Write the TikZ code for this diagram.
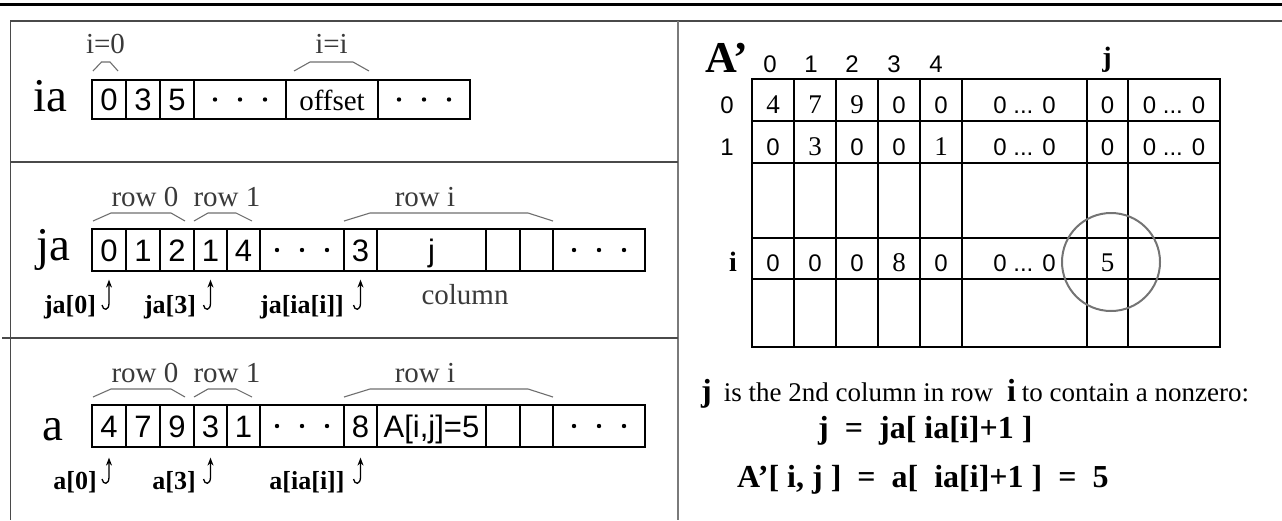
\documentclass[tikz,border=0pt]{standalone}
\usepackage{fontspec}
\setmainfont{Liberation Serif}
\setsansfont{Liberation Sans}
\usetikzlibrary{arrows.meta,calc}
\newcommand{\fsz}[1]{\fontsize{#1}{#1}\selectfont}
\definecolor{framegray}{HTML}{4A4A4A}
\definecolor{divgray}{HTML}{7A7A7A}
\definecolor{bracegray}{HTML}{6E6E6E}
\definecolor{anngray}{HTML}{3A3A3A}
\definecolor{ringgray}{HTML}{747474}
\tikzset{
  cellbox/.style={draw, line width=1.2pt, inner sep=0pt, text height=22pt, text depth=0pt, font=\sffamily\fsz{31}},
  iacell/.style={cellbox, minimum height=39pt},
  rowcell/.style={cellbox, minimum height=42pt},
  arrname/.style={font=\fsz{47}, inner sep=0pt, anchor=base west},
  ann/.style={font=\fsz{29}, text=anngray, inner sep=0pt, anchor=base},
  brc/.style={draw=bracegray, line width=1.1pt},
  jarr/.style={draw, line width=1.3pt, -{Stealth[length=8pt,width=6pt]}},
  idxlbl/.style={font=\bfseries\fsz{26}, inner sep=0pt, anchor=base},
  gsans/.style={font=\sffamily\fsz{24}, inner sep=0pt, anchor=base},
  gserif/.style={font=\fsz{27}, inner sep=0pt, anchor=base},
  gbold/.style={font=\bfseries\fsz{28}, inner sep=0pt, anchor=base},
  thinrule/.style={line width=1.1pt},
  thickrule/.style={line width=2.4pt},
  eqline/.style={font=\bfseries\fsz{32}, inner sep=0pt, anchor=base west},
}
\begin{document}
\begin{tikzpicture}[x=1pt, y=-1pt]
\useasboundingbox (0,0) rectangle (1282,520);

% page rules and panel frame
\draw[line width=3pt] (0,4.5) -- (1282,4.5);
\draw[framegray, line width=1.6pt] (1282,21) -- (10.5,21) -- (10.5,520);
\draw[divgray, line width=1.4pt] (678,21) -- (678,520);
\draw[framegray, line width=1.2pt] (10.5,162) -- (678,162);
\draw[framegray, line width=1.2pt] (2,338) -- (678,338);

% ---------- ia ----------
\node[arrname] (ianame) at (33,111) {ia};
\node[iacell, minimum width=34pt] (ia0) at (109,99.5) {0};
\node[iacell, minimum width=34pt] (ia1) at (143,99.5) {3};
\node[iacell, minimum width=34pt] (ia2) at (177,99.5) {5};
\node[iacell, minimum width=92pt] (ia3) at (240,99.5) {};
\node[iacell, minimum width=92pt, font=\rmfamily\fsz{29}] (ia4) at (332,99.5) {offset};
\node[iacell, minimum width=92pt] (ia5) at (424,99.5) {};
\draw[brc] (93,71) -- (101.5,62) -- (110,62) -- (118,71);
\draw[brc] (294,71) -- (310,62) -- (353,62) -- (369,71);
\node[ann] (iazero) at (105.5,53) {i=0};
\node[ann] (iai) at (331.5,53) {i=i};

% ---------- ja ----------
\node[arrname] (janame) at (36,260) {ja};
\node[rowcell, minimum width=34pt] (ja0) at (109,250) {0};
\node[rowcell, minimum width=34pt] (ja1) at (143,250) {1};
\node[rowcell, minimum width=34pt] (ja2) at (177,250) {2};
\node[rowcell, minimum width=33pt] (ja3) at (210.5,250) {1};
\node[rowcell, minimum width=33pt] (ja4) at (243.5,250) {4};
\node[rowcell, minimum width=84pt] (ja5) at (302,250) {};
\node[rowcell, minimum width=33pt] (ja6) at (360.5,250) {3};
\node[rowcell, minimum width=109pt] (ja7) at (431.5,250) {j};
\node[rowcell, minimum width=34pt] (ja8) at (503,250) {};
\node[rowcell, minimum width=33pt] (ja9) at (536.5,250) {};
\node[rowcell, minimum width=92pt] (ja10) at (599,250) {};
\draw[brc] (93,221) -- (111,213) -- (171,213) -- (185,221);
\draw[brc] (194,221) -- (208,213) -- (236,213) -- (252,221);
\draw[brc] (344,221) -- (370,213) -- (528,213) -- (553,221);
\node[ann] (jar0) at (145,206) {row 0};
\node[ann] (jar1) at (227,206) {row 1};
\node[ann] (jari) at (425,206) {row i};
\node[ann] (jacol) at (465,304) {column};
\node[idxlbl] (lja0) at (70,313) {ja[0]};
\node[idxlbl] (lja3) at (170,313) {ja[3]};
\node[idxlbl] (ljai) at (302,313) {ja[ia[i]]};
\coordinate (hja0) at (102,305);
\coordinate (hja3) at (203.5,305);
\coordinate (hjai) at (353.5,305);
\draw[jarr, shorten >=8pt] (hja0) .. controls +(1,6) and +(0,8) .. ++(7,-2) -- (ja0.south);
\draw[jarr, shorten >=8pt] (hja3) .. controls +(1,6) and +(0,8) .. ++(7,-2) -- (ja3.south);
\draw[jarr, shorten >=8pt] (hjai) .. controls +(1,6) and +(0,8) .. ++(7,-2) -- (ja6.south);

% ---------- a ----------
\node[arrname] (aname) at (42,440) {a};
\node[rowcell, minimum width=34pt] (a0) at (109,426) {4};
\node[rowcell, minimum width=34pt] (a1) at (143,426) {7};
\node[rowcell, minimum width=34pt] (a2) at (177,426) {9};
\node[rowcell, minimum width=33pt] (a3) at (210.5,426) {3};
\node[rowcell, minimum width=33pt] (a4) at (243.5,426) {1};
\node[rowcell, minimum width=84pt] (a5) at (302,426) {};
\node[rowcell, minimum width=33pt] (a6) at (360.5,426) {8};
\node[rowcell, minimum width=109pt] (a7) at (431.5,426) {A[i,j]=5};
\node[rowcell, minimum width=34pt] (a8) at (503,426) {};
\node[rowcell, minimum width=33pt] (a9) at (536.5,426) {};
\node[rowcell, minimum width=92pt] (a10) at (599,426) {};
\draw[brc] (93,397) -- (111,389) -- (171,389) -- (185,397);
\draw[brc] (194,397) -- (208,389) -- (236,389) -- (252,397);
\draw[brc] (344,397) -- (370,389) -- (528,389) -- (553,397);
\node[ann] (ar0) at (145,382) {row 0};
\node[ann] (ar1) at (227,382) {row 1};
\node[ann] (ari) at (425,382) {row i};
\node[idxlbl] (la0) at (75,489) {a[0]};
\node[idxlbl] (la3) at (174,489) {a[3]};
\node[idxlbl] (lai) at (307,489) {a[ia[i]]};
\coordinate (ha0) at (102,479);
\coordinate (ha3) at (203.5,479);
\coordinate (hai) at (353.5,479);
\draw[jarr, shorten >=10pt] (ha0) .. controls +(1,6) and +(0,8) .. ++(7,-2) -- (a0.south);
\draw[jarr, shorten >=10pt] (ha3) .. controls +(1,6) and +(0,8) .. ++(7,-2) -- (a3.south);
\draw[jarr, shorten >=10pt] (hai) .. controls +(1,6) and +(0,8) .. ++(7,-2) -- (a6.south);

% ellipsis dots in the open-ended cells
\foreach \c in {ia3,ia5,ja5,ja10,a5,a10}
  \foreach \d in {-25,0,25}
    \fill ($(\c.center)+(\d,0)$) circle (2.2pt);

% ---------- dense matrix A' ----------
\node[font=\bfseries\fsz{44}, inner sep=0pt, anchor=base west] (Aname) at (705,72) {A’};
\node[gsans] (h0) at (770,72) {0};
\node[gsans] (h1) at (811,72) {1};
\node[gsans] (h2) at (852,72) {2};
\node[gsans] (h3) at (894,72) {3};
\node[gsans] (h4) at (936,72) {4};
\node[gbold] (hj) at (1107,66) {j};
\node[gsans] (r0) at (727,113) {0};
\node[gsans] (r1) at (727,155) {1};
\node[gbold] (ri) at (733,271) {i};

% grid
\draw[thinrule] (752,79) rectangle (1220,347);
\foreach \xx in {794,836,878,920,962}
  \draw[thinrule] (\xx,79) -- (\xx,347);
\foreach \yy in {121,163}
  \draw[thinrule] (752,\yy) -- (1220,\yy);
\foreach \yy in {238,279}
  \draw[thickrule] (752,\yy) -- (1220,\yy);
\foreach \xx in {1087,1128}
  \draw[thickrule] (\xx,79) -- (\xx,347);

% row 0
\node[gserif] (c00) at (773,113) {4};
\node[gserif] (c01) at (815,113) {7};
\node[gserif] (c02) at (857,113) {9};
\node[gsans]  (c03) at (899,113) {0};
\node[gsans]  (c04) at (941,113) {0};
\node[gsans]  (c05) at (1024.5,113) {0 ... 0};
\node[gsans]  (c06) at (1107.5,113) {0};
\node[gsans]  (c07) at (1174,113) {0 ... 0};
% row 1
\node[gsans]  (c10) at (773,155) {0};
\node[gserif] (c11) at (815,155) {3};
\node[gsans]  (c12) at (857,155) {0};
\node[gsans]  (c13) at (899,155) {0};
\node[gserif] (c14) at (941,155) {1};
\node[gsans]  (c15) at (1024.5,155) {0 ... 0};
\node[gsans]  (c16) at (1107.5,155) {0};
\node[gsans]  (c17) at (1174,155) {0 ... 0};
% row i
\node[gsans]  (ci0) at (773,271) {0};
\node[gsans]  (ci1) at (815,271) {0};
\node[gsans]  (ci2) at (857,271) {0};
\node[gserif] (ci3) at (899,271) {8};
\node[gsans]  (ci4) at (941,271) {0};
\node[gsans]  (ci5) at (1024.5,271) {0 ... 0};
\node[gserif] (ci6) at (1107.5,271) {5};

\draw[ringgray, line width=2pt] (1111,262) circle (49pt);

% explanation
\node[inner sep=0pt, anchor=base west] (expl) at (701,401)
  {{\bfseries\fsz{32}j}\hspace{12pt}{\fsz{27}is the 2nd column in row}\hspace{14pt}{\bfseries\fsz{32}i}\hspace{6pt}{\fsz{27}to contain a nonzero:}};
\node[eqline] (eqj) at (818,438) {j\ \ =\ \ ja[ ia[i]+1 ]};
\node[eqline] (eqA) at (737,487) {A’[ i, j ]\ \ =\ \ a[\ \ ia[i]+1 ]\ \ =\ \ 5};
\end{tikzpicture}
\end{document}
